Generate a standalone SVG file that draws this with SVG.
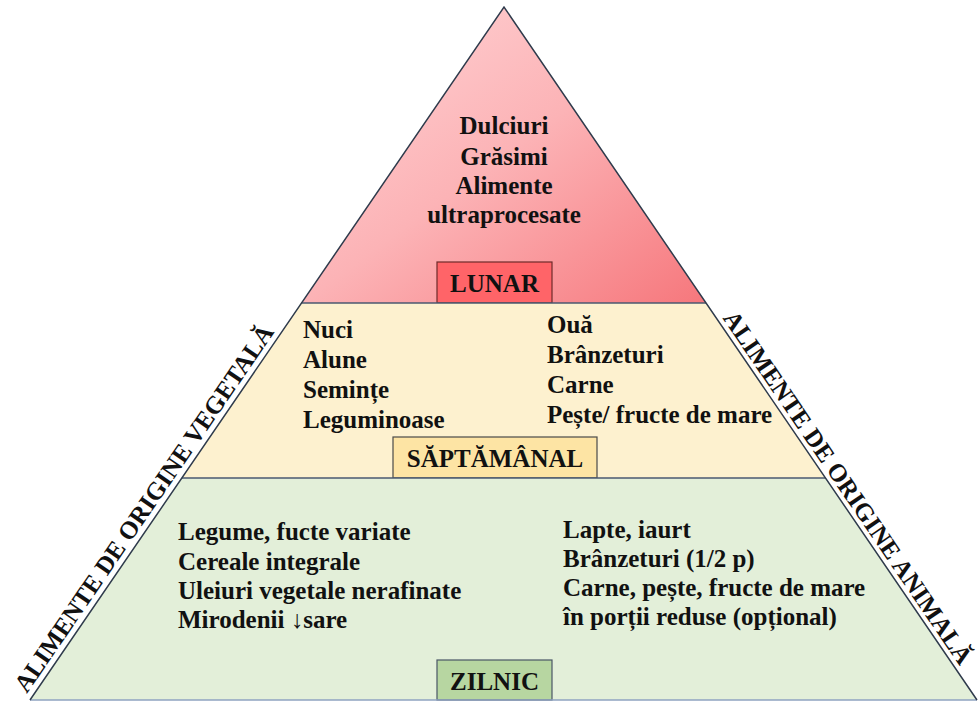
<svg xmlns="http://www.w3.org/2000/svg" width="979" height="702" viewBox="0 0 979 702">
  <defs>
    <linearGradient id="gTop" x1="0" y1="0" x2="1" y2="1">
      <stop offset="0" stop-color="#ffd6d8"/>
      <stop offset="0.5" stop-color="#fcb3b6"/>
      <stop offset="1" stop-color="#f6777c"/>
    </linearGradient>
    <style>
      .t { font-family: "Liberation Serif", "Times New Roman", serif; font-weight: bold; font-size: 25px; fill: #111; }
      .c { text-anchor: middle; }
      .edge { stroke: #2f3b4c; stroke-width: 1.5; fill: none; }
      .sep { stroke: #4a5870; stroke-width: 1.5; }
    </style>
  </defs>
  <rect width="979" height="702" fill="#ffffff"/>

  <g id="tier-lunar">
    <polygon points="504,7 301.5,303 706,303" fill="url(#gTop)"/>
    <text class="t c" x="504" y="134">Dulciuri</text>
    <text class="t c" x="504" y="165">Grăsimi</text>
    <text class="t c" x="504" y="194">Alimente</text>
    <text class="t c" x="504" y="223">ultraprocesate</text>
    <rect x="437" y="262" width="115" height="41" fill="#ff6468" stroke="#6e2a2a" stroke-width="1.2"/>
    <text class="t c" x="494.5" y="292">LUNAR</text>
  </g>

  <g id="tier-saptamanal">
    <polygon points="301.5,303 706,303 825.5,478 182,478" fill="#fdf1cf"/>
    <text class="t" x="303" y="338">Nuci</text>
    <text class="t" x="303" y="368">Alune</text>
    <text class="t" x="303" y="398">Semințe</text>
    <text class="t" x="303" y="428">Leguminoase</text>
    <text class="t" x="547" y="333">Ouă</text>
    <text class="t" x="547" y="363">Brânzeturi</text>
    <text class="t" x="547" y="393">Carne</text>
    <text class="t" x="547" y="423">Pește/ fructe de mare</text>
    <rect x="393" y="437" width="204" height="41" fill="#fde4a4" stroke="#4a4a4a" stroke-width="1.2"/>
    <text class="t c" x="495" y="467">SĂPTĂMÂNAL</text>
  </g>

  <g id="tier-zilnic">
    <polygon points="182,478 825.5,478 977,700 30,700" fill="#e3efd9"/>
    <text class="t" x="178" y="540">Legume, fucte variate</text>
    <text class="t" x="178" y="570">Cereale integrale</text>
    <text class="t" x="178" y="599">Uleiuri vegetale nerafinate</text>
    <text class="t" x="178" y="628">Mirodenii ↓sare</text>
    <text class="t" x="563" y="538">Lapte, iaurt</text>
    <text class="t" x="563" y="567">Brânzeturi (1/2 p)</text>
    <text class="t" x="563" y="596">Carne, pește, fructe de mare</text>
    <text class="t" x="563" y="625">în porții reduse (opțional)</text>
    <rect x="437" y="660" width="115" height="40" fill="#b7d6a1" stroke="#4a5566" stroke-width="1.2"/>
    <text class="t c" x="494.5" y="690">ZILNIC</text>
  </g>

  <g id="outline">
    <line class="sep" x1="301.5" y1="303" x2="706" y2="303"/>
    <line class="sep" x1="182" y1="478" x2="825.5" y2="478"/>
    <line x1="30" y1="700" x2="977" y2="700" stroke="#8fa3c0" stroke-width="1.5"/>
    <polyline class="edge" points="30,700 504,7 977,700"/>
  </g>

  <g id="label-vegetala">
    <text class="t" transform="translate(26.7,694.1) rotate(-55.6)">ALIMENTE DE ORIGINE VEGETALĂ</text>
  </g>
  <g id="label-animala">
    <text class="t" transform="translate(722.3,318.1) rotate(55.7)">ALIMENTE DE ORIGINE ANIMALĂ</text>
  </g>
</svg>
